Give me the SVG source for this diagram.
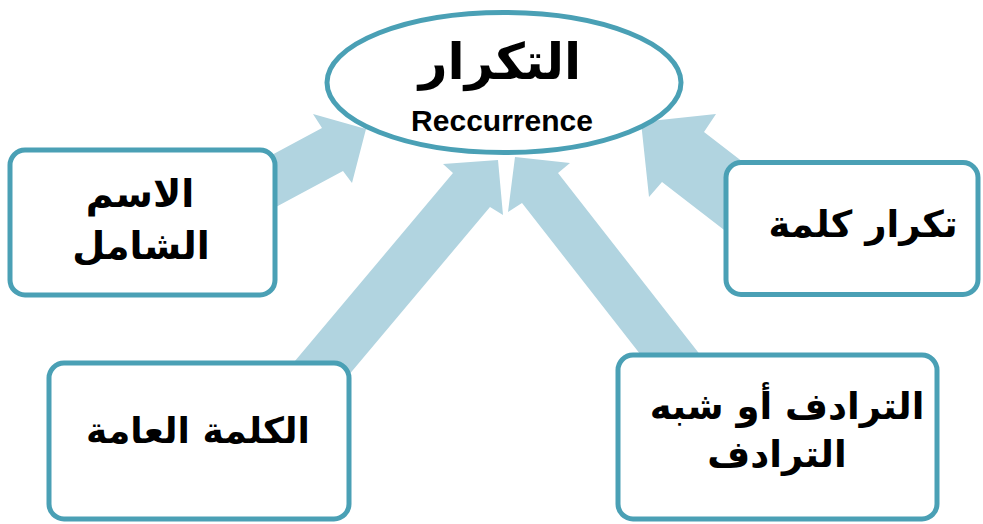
<svg xmlns="http://www.w3.org/2000/svg" width="983" height="524" viewBox="0 0 983 524">
<style>
.arrow{fill:#b1d4e0;stroke:none}
.node{fill:#ffffff;stroke:#4aa0b5;stroke-width:5}
.ar{font-family:"DejaVu Sans","Noto Sans",sans-serif;font-weight:bold;fill:#000;text-anchor:middle}
.en{font-family:"Liberation Sans",Arial,sans-serif;font-weight:bold;fill:#000;text-anchor:middle}
</style>
<rect width="983" height="524" fill="#ffffff"/>
<g id="connectors">
<polygon class="arrow" points="366,129 313,114 322,128 225,180 246,223 343,171 352,183"/>
<polygon class="arrow" points="498,160 443,164 453,173 279,380 316,414 490,207 503,215"/>
<polygon class="arrow" points="515,157 570,163 558,173 712,370 676,400 522,203 508,212"/>
<polygon class="arrow" points="641,122 716,114 704,132 783,193 741,243 662,182 649,197"/>
</g>
<g id="center">
<ellipse class="node" cx="504" cy="82.5" rx="177" ry="70"/>
<text class="ar" x="500" y="79" font-size="50">التكرار</text>
<text class="en" x="502" y="131" font-size="30">Reccurrence</text>
</g>
<g id="node-ism">
<rect class="node" x="10" y="150" width="265" height="145" rx="15"/>
<text class="ar" x="140" y="207" font-size="38">الاسم</text>
<text class="ar" x="141" y="259" font-size="38">الشامل</text>
</g>
<g id="node-takrar">
<rect class="node" x="726" y="162.5" width="252" height="132" rx="15"/>
<text class="ar" x="863" y="237" font-size="37">تكرار كلمة</text>
</g>
<g id="node-kalima">
<rect class="node" x="49" y="363" width="300" height="156" rx="15"/>
<text class="ar" x="198" y="443" font-size="36">الكلمة العامة</text>
</g>
<g id="node-taraduf">
<rect class="node" x="618" y="355" width="319" height="164" rx="15"/>
<text class="ar" x="787" y="419" font-size="37">الترادف أو شبه</text>
<text class="ar" x="777" y="467" font-size="37">الترادف</text>
</g>
</svg>
